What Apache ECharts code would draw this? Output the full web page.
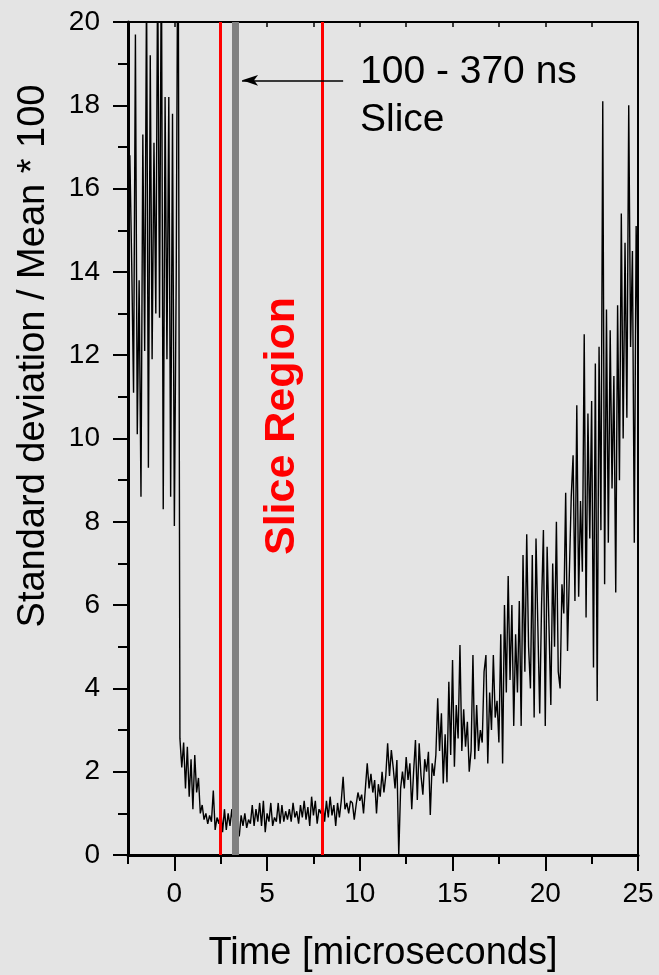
<!DOCTYPE html>
<html>
<head>
<meta charset="utf-8">
<script src="https://cdn.jsdelivr.net/npm/echarts@6/dist/echarts.min.js"></script>
<style>
  html, body { margin: 0; padding: 0; background: #e4e4e4; }
  #chart { width: 659px; height: 975px; }
</style>
</head>
<body>
<div id="chart"></div>
<script>
// Sampling of the trace: first sample time and spacing, in microseconds
const timeStart = -2.5;
const timeStep = 0.1;

// Standard deviation / mean * 100, one value per sample (rows of 1 µs)
const ratio = [
  15.5, 16.8, 14.2, 11.1, 19.7, 10.1, 13.8, 8.6, 17.3, 12.1,
  21, 9.3, 19.2, 11.9, 17.1, 13.0, 21.5, 12.9, 22, 8.3,
  18.2, 11.9, 18.2, 8.6, 17.8, 7.9, 13.9, 24, 2.8, 2.1,
  2.7, 1.6, 2.6, 1.4, 2.3, 1.1, 2.4, 1.5, 1.85, 1.0,
  1.2, 0.85, 1.0, 0.75, 0.95, 0.8, 1.55, 0.6, 0.9, 0.75,
  1.1, 0.55, 1.1, 0.6, 1.0, 0.7, 1.1, 0.6, 0.9, 0.5,
  0.45, 0.95, 0.7, 1.0, 0.65, 0.85, 0.75, 1.2, 0.7, 1.1,
  0.8, 1.25, 0.7, 1.3, 0.55, 1.0, 0.8, 1.25, 0.7, 0.9,
  0.8, 1.25, 0.75, 1.2, 0.8, 1.05, 0.85, 1.1, 0.8, 1.25,
  0.9, 1.05, 0.75, 1.2, 0.9, 1.3, 0.85, 1.15, 0.7, 1.4,
  0.95, 1.3, 0.75, 1.1, 1.0, 1.3, 0.8, 1.3, 0.9, 1.4,
  0.95, 1.2, 0.7, 1.25, 0.9, 1.3, 1.88, 1.1, 1.25, 1.0,
  1.3, 1.25, 0.85, 1.2, 1.5, 1.3, 1.45, 1.0, 1.6, 2.2,
  1.6, 1.95, 1.5, 1.8, 1.0, 1.7, 1.4, 2.0, 1.5, 1.9,
  2.68, 1.9, 2.52, 2.1, 1.6, 2.28, 0.0, 1.6, 2.0, 1.6,
  2.35, 1.8, 2.2, 1.1, 2.0, 2.76, 1.32, 2.68, 1.9, 1.45,
  2.3, 2.0, 2.48, 0.96, 2.2, 1.9, 2.4, 3.76, 2.5, 3.4,
  1.72, 2.9, 1.75, 4.16, 2.4, 4.68, 2.12, 3.6, 2.8, 5.04,
  2.5, 3.5, 2.6, 3.2, 2.0, 2.5, 4.8, 2.3, 3.6, 2.5,
  3.0, 2.7, 4.4, 4.8, 2.2, 3.9, 3.0, 4.8, 3.3, 3.7,
  2.7, 5.3, 2.2, 6.0, 3.9, 6.7, 4.2, 6.0, 3.1, 5.3,
  3.9, 6.1, 3.1, 7.2, 4.4, 7.7, 5.0, 4.0, 7.2, 3.3,
  7.6, 5.5, 3.4, 6.0, 7.8, 3.1, 7.4, 5.5, 3.6, 7.0,
  5.0, 8.0, 4.4, 4.0, 6.5, 5.8, 8.7, 4.9, 6.8, 8.6,
  9.6, 6.1, 10.8, 6.2, 8.5, 6.8, 12.5, 5.7, 10.6, 7.6,
  10.9, 4.5, 11.8, 3.7, 12.2, 7.8, 18.1, 6.5, 13.1, 7.5,
  12.6, 8.8, 11.5, 6.3, 13.2, 9.0, 15.4, 10.0, 14.7, 10.5,
  18.0, 12.2, 14.5, 7.5, 15.1, 12.0
];

// Axis ranges, labelled ticks and titles
const timeRange = [-2.5, 25];
const ratioRange = [0, 20];
const timeLabels = [0, 5, 10, 15, 20, 25];
const timeTitle = 'Time [microseconds]';
const ratioTitle = 'Standard deviation / Mean * 100';

// Slice region edges, selected slice and its annotation
const sliceEdges = [2.5, 7.95];
const sliceTime = 3.3;
const arrowTail = [9.1, 18.6];
const arrowHead = [3.65, 18.6];
const sliceNote = '100 - 370 ns\nSlice';
const regionNote = 'Slice Region';

const FONT = "'Liberation Sans', Arial, sans-serif";

const points = ratio.map((v, i) => [+(timeStart + i * timeStep).toFixed(2), v]);

const chart = echarts.init(document.getElementById('chart'), null, { renderer: 'canvas' });

chart.setOption({
  animation: false,
  backgroundColor: '#e4e4e4',
  grid: {
    left: 128, right: 21, top: 22, bottom: 120,
    containLabel: false, outerBoundsMode: 'none'
  },
  xAxis: [
    {
      type: 'value', position: 'bottom',
      min: timeRange[0], max: timeRange[1], interval: 2.5,
      name: timeTitle, nameLocation: 'middle', nameGap: 80,
      nameTextStyle: { fontFamily: FONT, fontSize: 38, color: '#000' },
      axisLine: { show: true, onZero: false, lineStyle: { color: '#000', width: 3 } },
      axisTick: { show: true, inside: false, length: 9, lineStyle: { color: '#000', width: 2 } },
      axisLabel: {
        show: true, margin: 25, fontFamily: FONT, fontSize: 28, color: '#000',
        formatter: v => (timeLabels.indexOf(v) >= 0 ? String(v) : '')
      },
      splitLine: { show: false }
    },
    {
      type: 'value', position: 'bottom',
      min: timeRange[0], max: timeRange[1], interval: 2.5,
      axisLine: { show: false },
      axisTick: { show: true, inside: false, length: 16, customValues: timeLabels,
                  lineStyle: { color: '#000', width: 2 } },
      axisLabel: { show: false },
      splitLine: { show: false }
    },
    {
      type: 'value', position: 'top',
      min: timeRange[0], max: timeRange[1], interval: 2.5,
      axisLine: { show: true, onZero: false, lineStyle: { color: '#000', width: 2 } },
      axisTick: { show: true, inside: true, length: 5, lineStyle: { color: '#000', width: 1.5 } },
      axisLabel: { show: false },
      splitLine: { show: false }
    }
  ],
  yAxis: [
    {
      type: 'value', position: 'left',
      min: ratioRange[0], max: ratioRange[1], interval: 2,
      axisLine: { show: true, onZero: false, lineStyle: { color: '#000', width: 3 } },
      axisTick: { show: true, inside: false, length: 15, lineStyle: { color: '#000', width: 2 } },
      minorTick: { show: true, splitNumber: 2, length: 10, lineStyle: { color: '#000', width: 2 } },
      axisLabel: { show: true, margin: 28, fontFamily: FONT, fontSize: 28, color: '#000' },
      splitLine: { show: false },
      minorSplitLine: { show: false }
    },
    {
      type: 'value', position: 'right',
      min: ratioRange[0], max: ratioRange[1], interval: 2,
      axisLine: { show: true, onZero: false, lineStyle: { color: '#000', width: 2 } },
      axisTick: { show: false },
      axisLabel: { show: false },
      splitLine: { show: false }
    }
  ],
  series: [
    {
      type: 'line',
      xAxisIndex: 0, yAxisIndex: 0,
      data: points,
      showSymbol: false, symbol: 'none',
      sampling: null,
      clip: true,
      lineStyle: { color: '#000', width: 1.4 },
      markLine: {
        silent: true, animation: false,
        symbol: ['none', 'none'],
        label: { show: false },
        data: [
          { xAxis: sliceEdges[0], lineStyle: { color: '#ff0000', width: 3, type: 'solid' } },
          { xAxis: sliceEdges[1], lineStyle: { color: '#ff0000', width: 3, type: 'solid' } },
          { xAxis: sliceTime, lineStyle: { color: '#808080', width: 7, type: 'solid' } },
          [
            { coord: arrowTail, symbol: 'none' },
            { coord: arrowHead, symbol: 'arrow', symbolSize: [8, 16],
              lineStyle: { color: '#000', width: 1.5, type: 'solid' } }
          ]
        ]
      }
    }
  ],
  graphic: [
    {
      // y-axis title, centred a little above the middle of the axis
      type: 'text', x: 34, y: 356, rotation: Math.PI / 2, silent: true,
      style: {
        text: ratioTitle, font: '38px ' + FONT, fill: '#000',
        align: 'center', verticalAlign: 'middle'
      }
    },
    {
      type: 'text', left: 360, top: 48, silent: true,
      style: { text: sliceNote, font: '39px ' + FONT, lineHeight: 48, fill: '#000' }
    },
    {
      type: 'text', x: 282, y: 426, rotation: Math.PI / 2, silent: true,
      style: {
        text: regionNote, font: 'bold 43px ' + FONT, fill: '#ff0000',
        align: 'center', verticalAlign: 'middle'
      }
    }
  ]
});
</script>
</body>
</html>
